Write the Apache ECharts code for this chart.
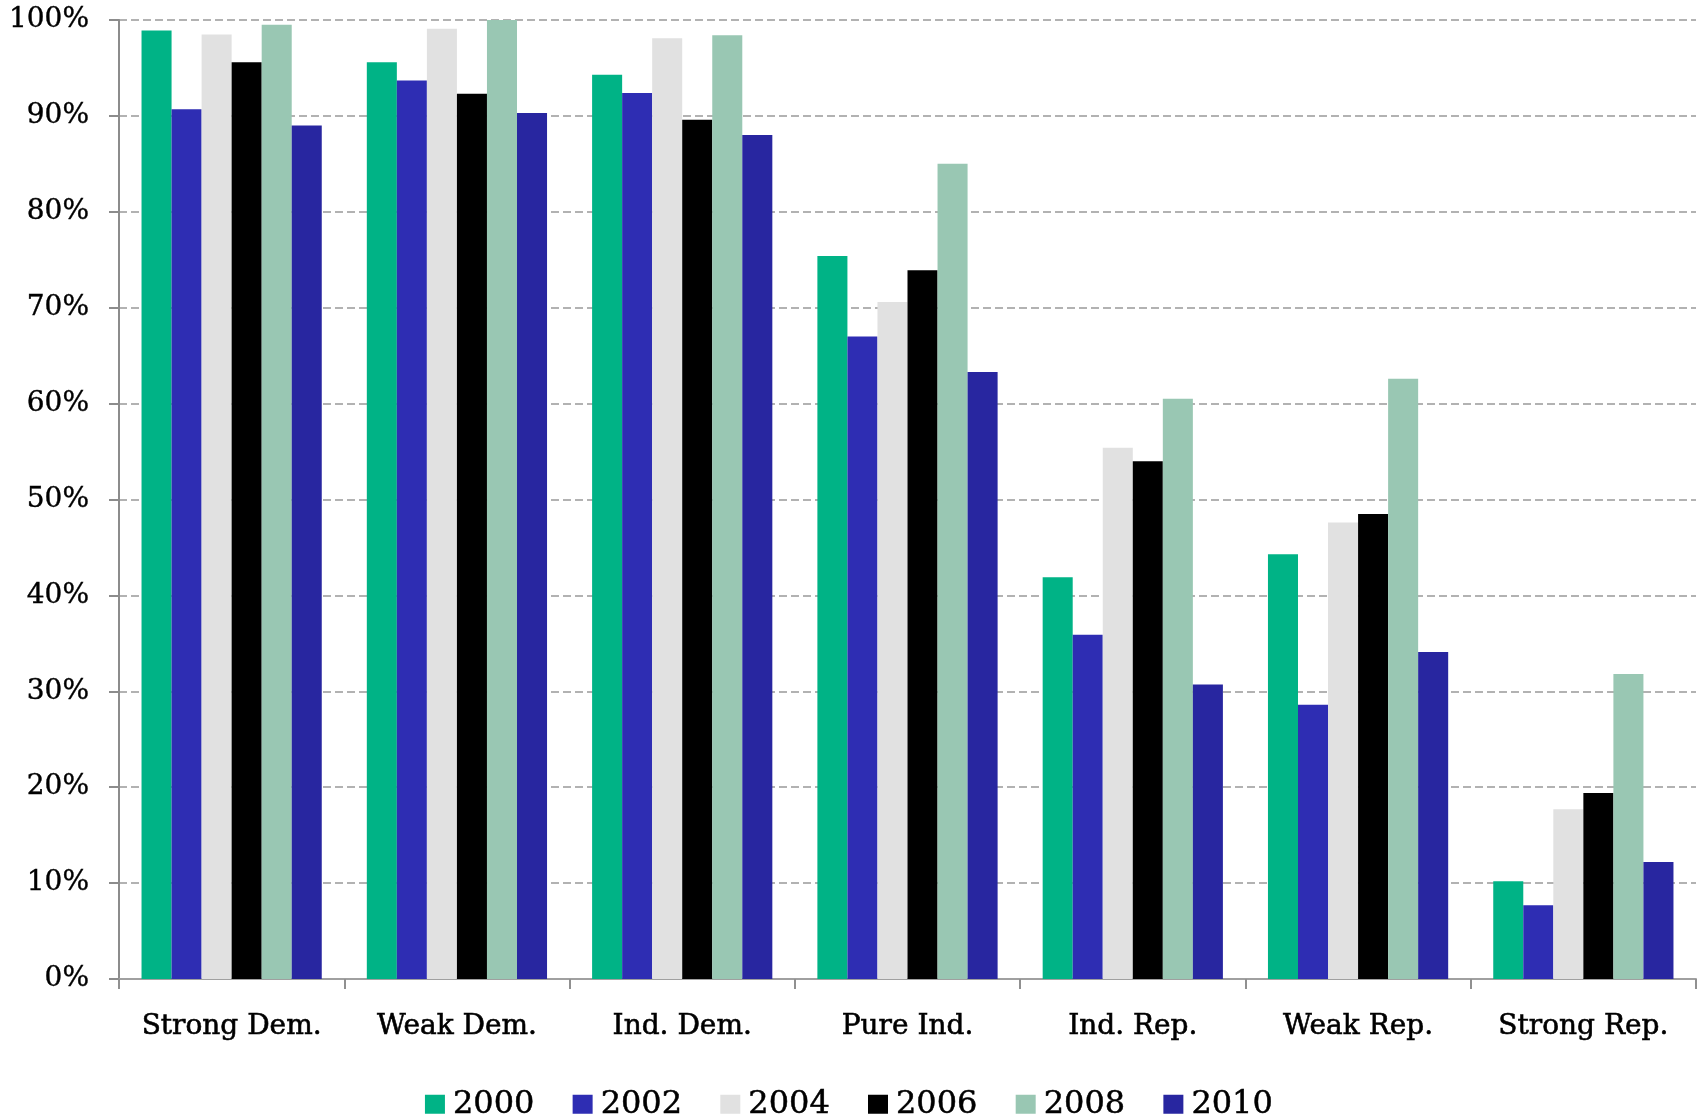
<!DOCTYPE html>
<html>
<head>
<meta charset="utf-8">
<script src="https://cdn.jsdelivr.net/npm/echarts@6/dist/echarts.min.js"></script>
<style>
html,body{margin:0;padding:0;background:#fff;}
#chart{width:1698px;height:1117px;}
</style>
</head>
<body>
<div id="chart"></div>
<script>
const categories = ['Strong Dem.', 'Weak Dem.', 'Ind. Dem.', 'Pure Ind.', 'Ind. Rep.', 'Weak Rep.', 'Strong Rep.'];
const years = ['2000', '2002', '2004', '2006', '2008', '2010'];
const colors = ['#00b386', '#2e2db3', '#e1e1e1', '#000000', '#99c7b3', '#2826a0'];
const v2000 = [98.9, 95.6, 94.3, 75.4, 41.9, 44.3, 10.2];
const v2002 = [90.7, 93.7, 92.4, 67.0, 35.9, 28.6, 7.7];
const v2004 = [98.5, 99.1, 98.1, 70.6, 55.4, 47.6, 17.7];
const v2006 = [95.6, 92.3, 89.6, 73.9, 54.0, 48.5, 19.4];
const v2008 = [99.5, 100.0, 98.4, 85.0, 60.5, 62.6, 31.8];
const v2010 = [89.0, 90.3, 88.0, 63.3, 30.7, 34.1, 12.2];
const seriesValues = [v2000, v2002, v2004, v2006, v2008, v2010];

const chart = echarts.init(document.getElementById('chart'));
const font = 'DejaVu Serif';
chart.setOption({
  animation: false,
  backgroundColor: '#fff',
  grid: {left: 119, right: 2, top: 20, bottom: 138, containLabel: false},
  legend: {
    top: 1083,
    left: 'center',
    itemWidth: 20,
    itemHeight: 19,
    itemGap: 38,
    icon: 'rect',
    textStyle: {fontFamily: font, fontSize: 32, color: '#000', textBorderColor: '#000', textBorderWidth: 0.5, padding: [0, 0, 0, 3]},
    data: years
  },
  xAxis: {
    type: 'category',
    data: categories,
    axisLine: {lineStyle: {color: '#a0a0a0', width: 2}},
    axisTick: {show: true, interval: 0, length: 10, lineStyle: {color: '#909090', width: 2}},
    axisLabel: {interval: 0, fontFamily: font, fontSize: 28, color: '#000', margin: 34, textBorderColor: '#000', textBorderWidth: 0.6}
  },
  yAxis: {
    type: 'value',
    min: 0,
    max: 100,
    interval: 10,
    axisLine: {show: true, lineStyle: {color: '#8c8c8c', width: 2}},
    axisTick: {show: true, length: 10, lineStyle: {color: '#8c8c8c', width: 2}},
    axisLabel: {fontFamily: font, fontSize: 28, color: '#000', margin: 30, formatter: '{value}%', textBorderColor: '#000', textBorderWidth: 0.4},
    splitLine: {show: true, lineStyle: {color: '#999', width: 1.5, type: [8, 4]}}
  },
  series: years.map((y, i) => ({
    name: y,
    type: 'bar',
    data: seriesValues[i],
    barGap: '0%',
    barCategoryGap: '20%',
    itemStyle: {color: colors[i]}
  }))
});
</script>
</body>
</html>
